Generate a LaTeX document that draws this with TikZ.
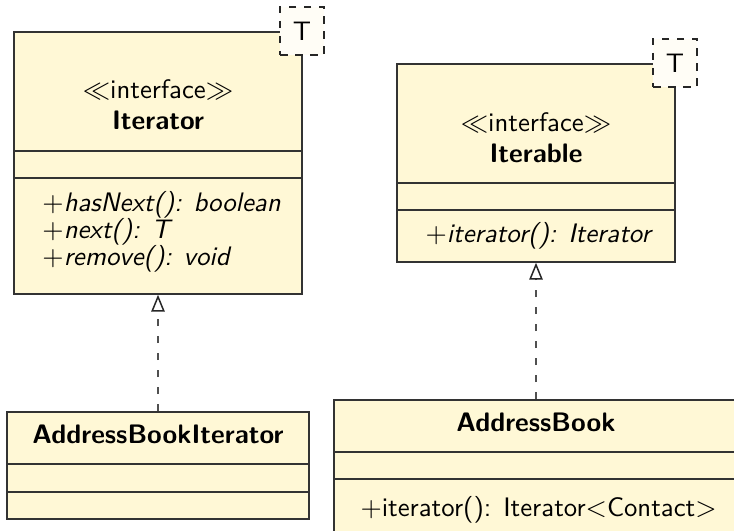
\documentclass[tikz,border=0pt]{standalone}
\usetikzlibrary{arrows.meta,fit}
\definecolor{classfill}{RGB}{255,248,214}
\definecolor{tplfill}{RGB}{255,253,246}
\definecolor{linkgray}{RGB}{80,80,80}
\newcommand{\umlfont}{\fontsize{10.7}{12.8}\selectfont\sffamily}
\begin{document}
\begin{tikzpicture}[x=0.4pt,y=-0.4pt,font=\umlfont,
  classbox/.style={draw=black!80,fill=classfill,line width=0.6pt,inner sep=0pt},
  sepline/.style={draw=black!80,line width=0.6pt},
  tplbox/.style={draw=black!85,fill=tplfill,dashed,line width=0.6pt,inner sep=0pt},
  txt/.style={inner sep=0pt,anchor=base},
  nametxt/.style={txt,font=\umlfont\bfseries},
  optxt/.style={inner sep=0pt,anchor=base west},
  realize/.style={draw=linkgray,dash pattern=on 3pt off 3.8pt,line width=0.6pt,
    -{Triangle[open,length=6.8pt,width=5.4pt,color=black!85,fill=white]}}]
\useasboundingbox (0,0) rectangle (734,531);
\clip (0,0) rectangle (734,531);

% interface Iterator<T>
\node[classbox,fit={(14,32)(302,294)}] (iterator) {};
\draw[sepline] (14,151) -- (302,151);
\draw[sepline] (14,178) -- (302,178);
\node[tplbox,fit={(280,7)(324,55)}] (iteratorT) {};
\node[inner sep=0pt] (iteratorTl) at (iteratorT.center) {T};
\node[txt] (iteratorSt) at (158,99) {$\ll$interface$\gg$};
\node[nametxt] (iteratorNm) at (158,130) {Iterator};
\node[optxt] (iteratorOp1) at (42,212) {$+$\textit{hasNext(): boolean}};
\node[optxt] (iteratorOp2) at (42,239) {$+$\textit{next(): T}};
\node[optxt] (iteratorOp3) at (42,266) {$+$\textit{remove(): void}};

% interface Iterable<T>
\node[classbox,fit={(397,64)(675,262)}] (iterable) {};
\draw[sepline] (397,183) -- (675,183);
\draw[sepline] (397,210) -- (675,210);
\node[tplbox,fit={(653,39)(697,87)}] (iterableT) {};
\node[inner sep=0pt] (iterableTl) at (iterableT.center) {T};
\node[txt] (iterableSt) at (536,132) {$\ll$interface$\gg$};
\node[nametxt] (iterableNm) at (536,163) {Iterable};
\node[optxt] (iterableOp1) at (425,243) {$+$\textit{iterator(): Iterator}};

% class AddressBookIterator
\node[classbox,fit={(7,412)(309,519)}] (abi) {};
\draw[sepline] (7,464) -- (309,464);
\draw[sepline] (7,492) -- (309,492);
\node[nametxt] (abiNm) at (158,444) {AddressBookIterator};

% class AddressBook
\node[classbox,fit={(334,400)(738,548)}] (ab) {};
\draw[sepline] (334,452) -- (738,452);
\draw[sepline] (334,479) -- (738,479);
\node[nametxt] (abNm) at (536,432) {AddressBook};
\node[optxt] (abOp1) at (360,517) {$+$iterator(): Iterator$<$Contact$>$};

% realizations
\draw[realize] (abi.north) -- (iterator.south);
\draw[realize] (ab.north) -- (iterable.south);
\end{tikzpicture}
\end{document}
